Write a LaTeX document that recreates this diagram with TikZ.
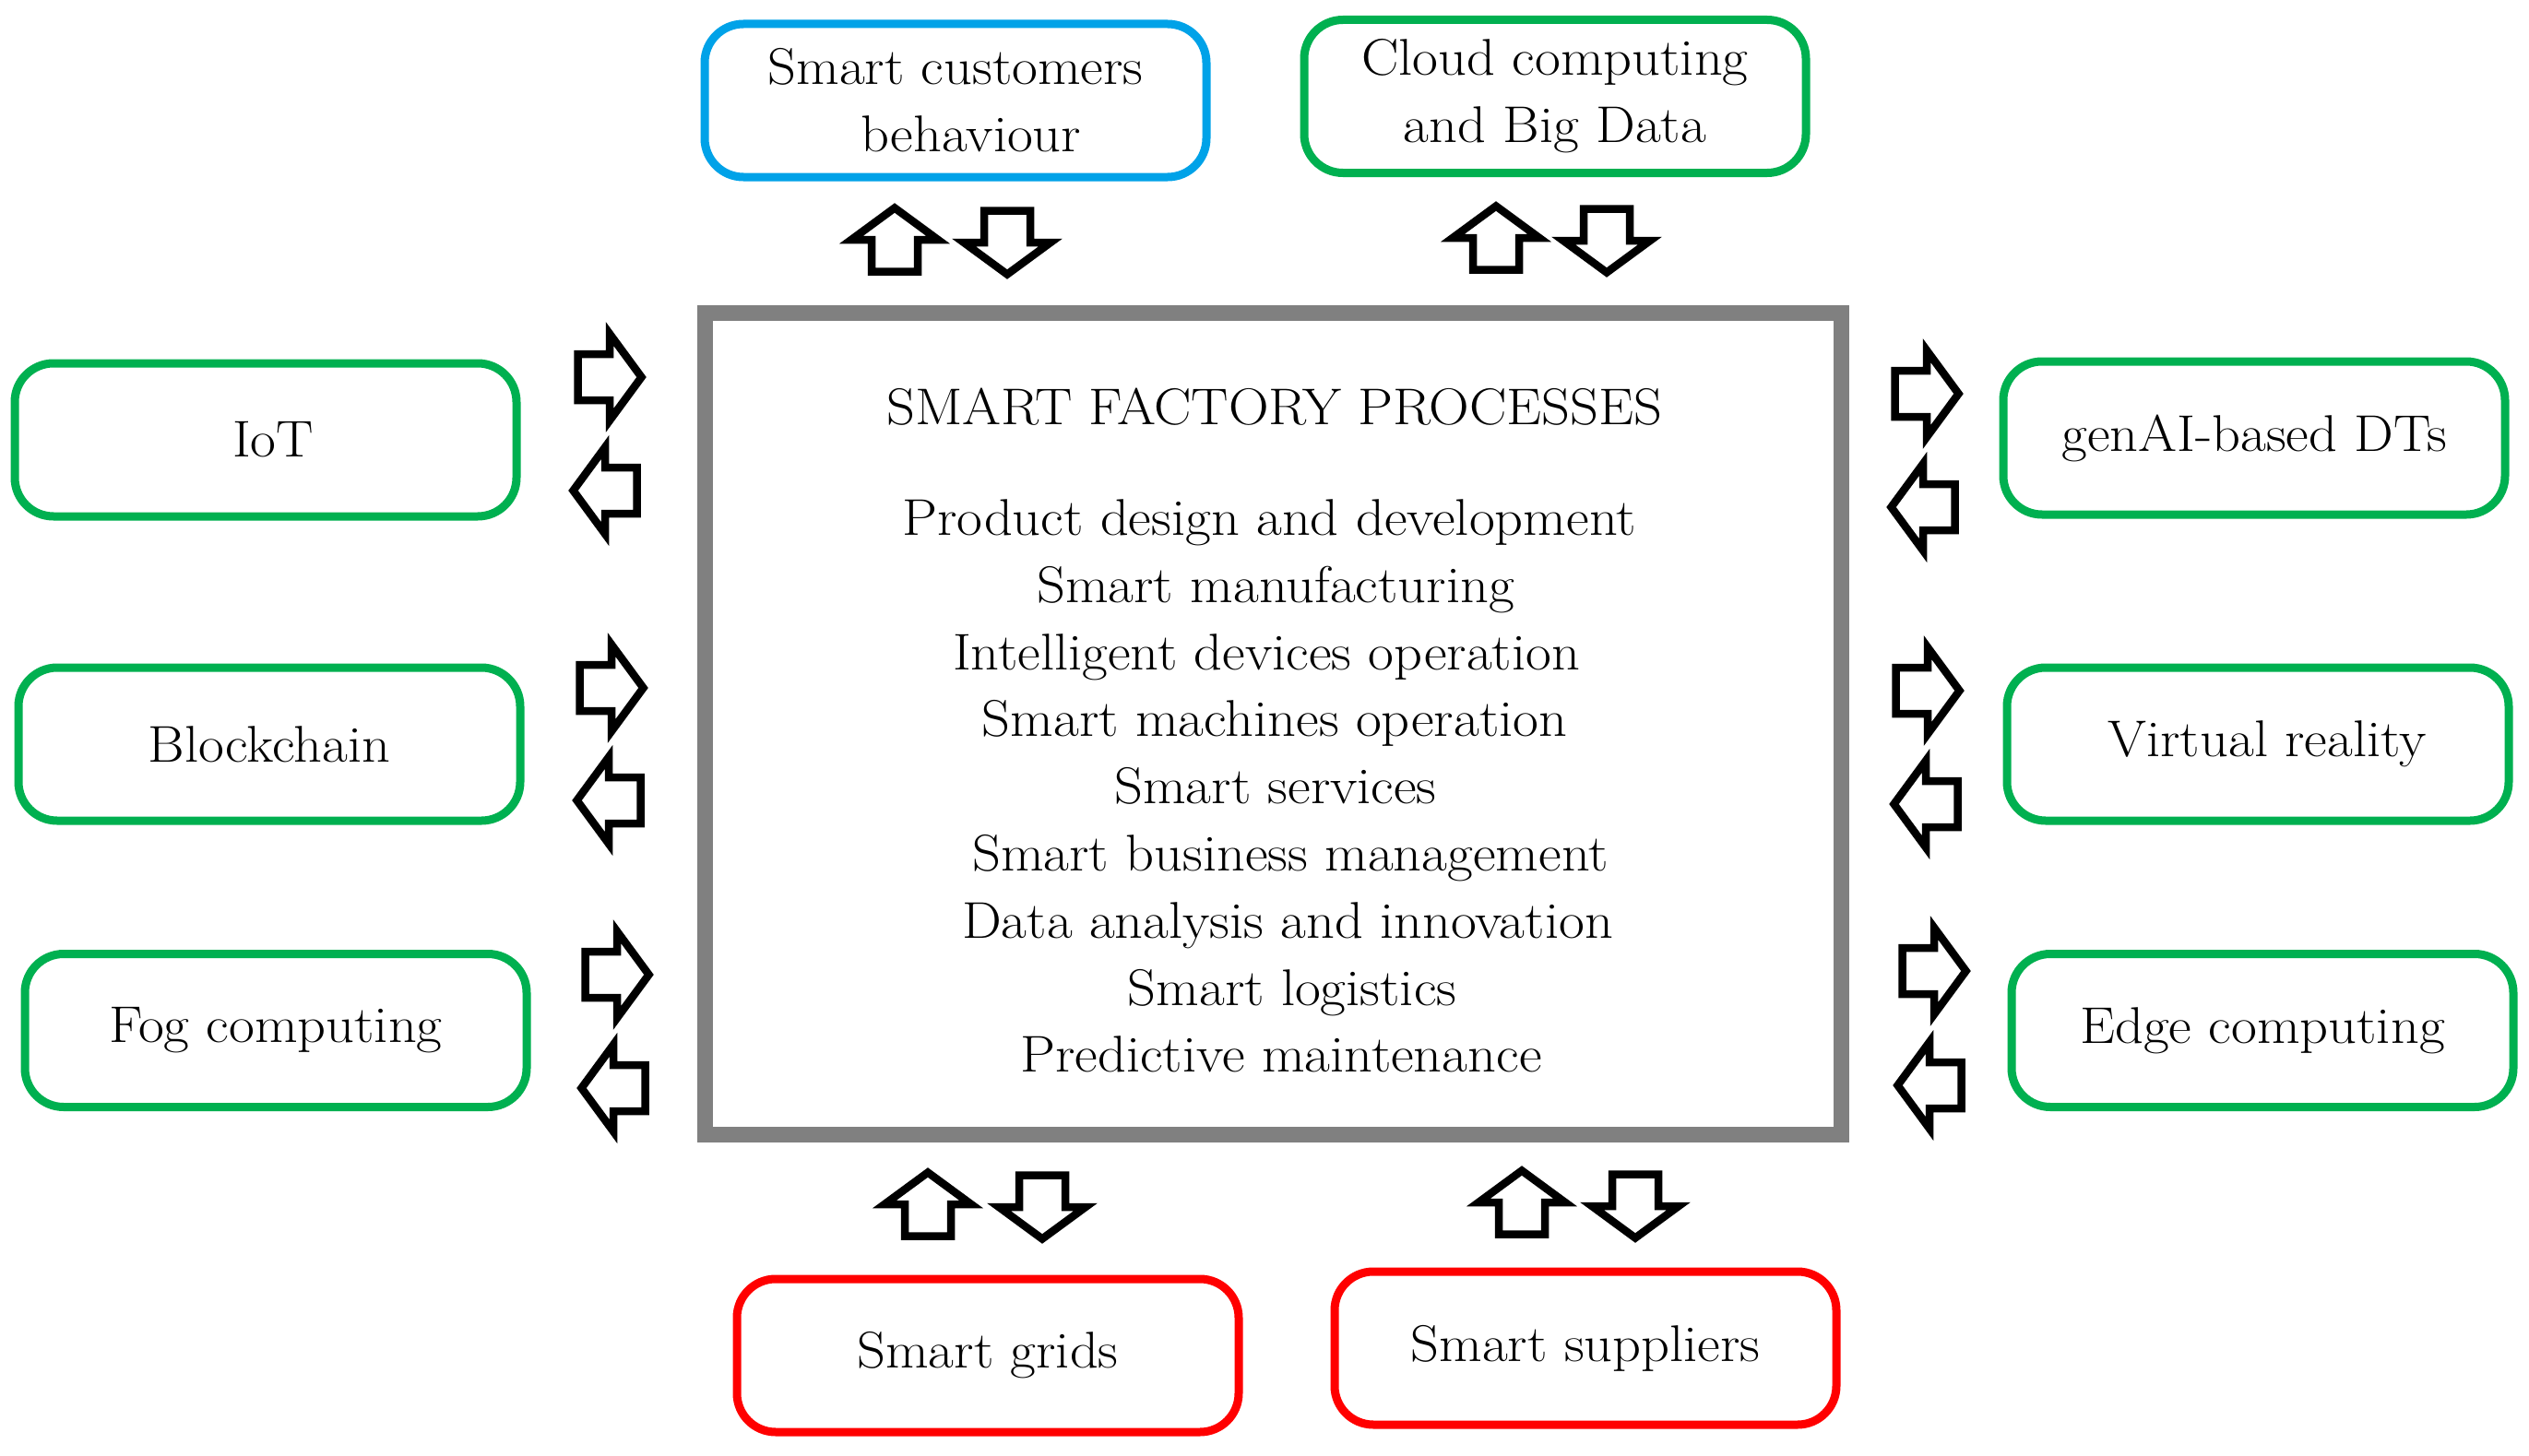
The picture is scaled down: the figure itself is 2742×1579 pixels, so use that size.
\documentclass[tikz,border=0pt]{standalone}
\definecolor{bgreen}{RGB}{0,176,80}
\definecolor{bblue}{RGB}{0,162,232}
\definecolor{bred}{RGB}{255,0,0}
\definecolor{bgray}{RGB}{128,128,128}
\newcommand\wxtext[1]{\scalebox{1.08}[1]{#1}}
\tikzset{
  lbl/.style={font=\fontsize{56}{72.8}\selectfont, text=black, inner sep=0pt},
  sbox/.style={draw=#1, line width=9pt, rounded corners=42pt, minimum width=544pt,
    minimum height=166pt, inner sep=0pt, align=center, font=\fontsize{56}{72.8}\selectfont},
  barrow/.pic={\draw[line width=8.5pt, line join=miter, fill=white]
    (-34.5,-25) -- (0,-25) -- (0,-47) -- (34.5,0) -- (0,47) -- (0,25) -- (-34.5,25) -- cycle;}
}
\begin{document}
\begin{tikzpicture}[x=1pt,y=-1pt]
\fill[white] (0,0) rectangle (2742,1579);
\useasboundingbox (0,0) rectangle (2742,1579);

% central box
\node[draw=bgray, line width=17pt, minimum width=1232pt, minimum height=891pt, inner sep=0pt] (main) at (1380,784.5) {};
\node[lbl, anchor=base] (head) at (1382,460) {\wxtext{SMART FACTORY PROCESSES}};
\node[lbl, anchor=base] (l1) at (1376,580) {\wxtext{Product design and development}};
\node[lbl, anchor=base] (l2) at (1383,653) {\wxtext{Smart manufacturing}};
\node[lbl, anchor=base] (l3) at (1373,726) {\wxtext{Intelligent devices operation}};
\node[lbl, anchor=base] (l4) at (1382,798) {\wxtext{Smart machines operation}};
\node[lbl, anchor=base] (l5) at (1383,871) {\wxtext{Smart services}};
\node[lbl, anchor=base] (l6) at (1399,944) {\wxtext{Smart business management}};
\node[lbl, anchor=base] (l7) at (1396,1017) {\wxtext{Data analysis and innovation}};
\node[lbl, anchor=base] (l8) at (1401,1090) {\wxtext{Smart logistics}};
\node[lbl, anchor=base] (l9) at (1389,1162) {\wxtext{Predictive maintenance}};

% surrounding boxes
\node[sbox=bblue]  (cust)  at (1036,109)    {\wxtext{Smart customers}\\\hspace*{0.6em}\wxtext{behaviour}};
\node[sbox=bgreen] (cloud) at (1686,104.5)  {\wxtext{Cloud computing}\\\wxtext{and Big Data}};
\node[sbox=bgreen] (iot)   at (288,477)     {\hspace*{16pt}\wxtext{IoT}};
\node[sbox=bgreen] (bc)    at (292,807)     {\wxtext{Blockchain}};
\node[sbox=bgreen] (fog)   at (299,1117.5)  {\wxtext{Fog computing}};
\node[sbox=bgreen] (gen)   at (2444,475)    {\wxtext{genAI-based DTs}};
\node[sbox=bgreen] (vr)    at (2448,807)    {\hspace*{20pt}\wxtext{Virtual reality}};
\node[sbox=bgreen] (edge)  at (2453,1117.5) {\wxtext{Edge computing}};
\node[sbox=bred]   (grid)  at (1071,1470)   {\wxtext{Smart grids}};
\node[sbox=bred]   (sup)   at (1719,1462)   {\wxtext{Smart suppliers}};

% top arrows
\pic[rotate=90]  at (970,260)  {barrow};
\pic[rotate=-90] at (1092,263) {barrow};
\pic[rotate=90]  at (1622,258) {barrow};
\pic[rotate=-90] at (1742,261) {barrow};
% bottom arrows
\pic[rotate=90]  at (1006,1306) {barrow};
\pic[rotate=-90] at (1130,1309) {barrow};
\pic[rotate=90]  at (1650,1304) {barrow};
\pic[rotate=-90] at (1773,1308) {barrow};
% left arrows
\pic at (661,409) {barrow};
\pic[rotate=180] at (656,532) {barrow};
\pic at (663,746) {barrow};
\pic[rotate=180] at (660,868) {barrow};
\pic at (669,1057) {barrow};
\pic[rotate=180] at (665,1180) {barrow};
% right arrows
\pic at (2089,427) {barrow};
\pic[rotate=180] at (2085,550) {barrow};
\pic at (2090,749) {barrow};
\pic[rotate=180] at (2088,872) {barrow};
\pic at (2097,1053) {barrow};
\pic[rotate=180] at (2092,1177) {barrow};
\end{tikzpicture}
\end{document}
